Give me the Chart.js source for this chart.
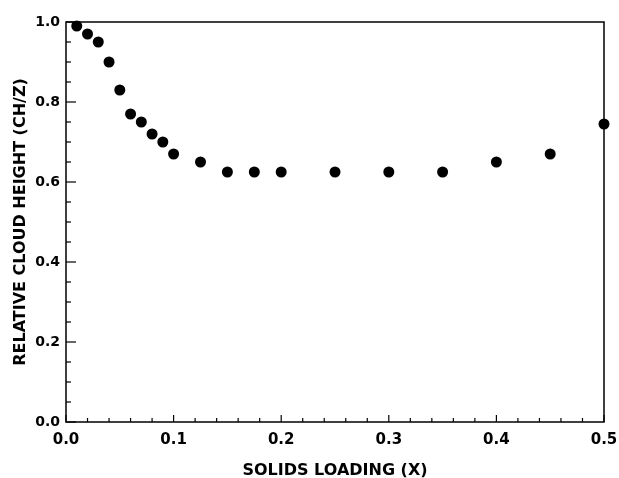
<!DOCTYPE html>
<html>
<head>
<meta charset="utf-8">
<script src="https://cdn.jsdelivr.net/npm/chart.js@4/dist/chart.umd.min.js"></script>
<style>
  html, body { margin: 0; padding: 0; background: #fff; }
  #wrap { width: 619px; height: 478px; }
</style>
</head>
<body>
<div id="wrap"><canvas id="c" width="619" height="478"></canvas></div>
<script>
// solids loading (x) and relative cloud height (CH/Z)
const loading = [0.01, 0.02, 0.03, 0.04, 0.05, 0.06, 0.07, 0.08, 0.09, 0.10,
                 0.125, 0.15, 0.175, 0.20, 0.25, 0.30, 0.35, 0.40, 0.45, 0.50]
const cloudHeight = [0.99, 0.97, 0.95, 0.90, 0.83, 0.77, 0.75, 0.72, 0.70, 0.67,
                     0.65, 0.625, 0.625, 0.625, 0.625, 0.625, 0.625, 0.65, 0.67, 0.745]

const xTicks = [0, 0.1, 0.2, 0.3, 0.4, 0.5]
const yTicks = [0, 0.2, 0.4, 0.6, 0.8, 1.0]
const xMinorStep = 0.02
const yMinorStep = 0.05

const FONT = 'DejaVu Sans'

var pts = loading.map((v, i) => ({x: v, y: cloudHeight[i]}))

// inward tick marks + the closed frame, placed with the chart's own scales
const frame = {
    id: 'frame',
    afterDraw(chart) {
        const ctx = chart.ctx
        const a = chart.chartArea
        const xs = chart.scales.x, ys = chart.scales.y
        ctx.save()
        ctx.strokeStyle = '#000'
        ctx.lineWidth = 1.5
        ctx.strokeRect(a.left, a.top, a.right - a.left, a.bottom - a.top)
        ctx.lineWidth = 1.2
        for (let i = 0; i * xMinorStep <= 0.5 + 1e-9; i++) {
            const v = i * xMinorStep
            const px = xs.getPixelForValue(v)
            const major = Math.abs(v * 10 - Math.round(v * 10)) < 1e-6
            ctx.beginPath()
            ctx.moveTo(px, a.bottom)
            ctx.lineTo(px, a.bottom - (major ? 7 : 4))
            ctx.stroke()
        }
        for (let i = 0; i * yMinorStep <= 1 + 1e-9; i++) {
            const v = i * yMinorStep
            const py = ys.getPixelForValue(v)
            const major = Math.abs(v * 5 - Math.round(v * 5)) < 1e-6
            ctx.beginPath()
            ctx.moveTo(a.left, py)
            ctx.lineTo(a.left + (major ? 10 : 5), py)
            ctx.stroke()
        }
        ctx.restore()
    }
}

new Chart(document.getElementById('c'), {
    type: 'scatter',
    data: {
        datasets: [{
            data: pts,
            backgroundColor: '#000',
            borderWidth: 0,
            pointRadius: 5.5,
            pointHoverRadius: 5.5,
            clip: false
        }]
    },
    options: {
        responsive: false,
        animation: false,
        events: [],
        layout: { padding: { top: 22, right: 15, left: 0, bottom: 0 } },
        plugins: { legend: { display: false }, tooltip: { enabled: false } },
        scales: {
            x: {
                type: 'linear',
                min: 0, max: 0.5,
                afterBuildTicks: s => { s.ticks = xTicks.map(v => ({value: v})) },
                afterFit: s => { s.height = 56; s.paddingLeft = 0; s.paddingRight = 0 },
                grid: { display: false, drawTicks: false },
                border: { display: false },
                ticks: {
                    padding: 9,
                    color: '#000',
                    font: { family: FONT, size: 15, weight: 'bold' },
                    maxRotation: 0,
                    callback: v => v.toFixed(1)
                },
                title: {
                    display: true,
                    text: 'SOLIDS LOADING (X)',
                    color: '#000',
                    font: { family: FONT, size: 16, weight: 'bold' },
                    padding: { top: 0, bottom: -2 }
                }
            },
            y: {
                type: 'linear',
                min: 0, max: 1,
                afterBuildTicks: s => { s.ticks = yTicks.map(v => ({value: v})) },
                afterFit: s => { s.width = 66; s.paddingTop = 0; s.paddingBottom = 0 },
                grid: { display: false, drawTicks: false },
                border: { display: false },
                ticks: {
                    padding: 6,
                    color: '#000',
                    font: { family: FONT, size: 14, weight: 'bold' },
                    callback: v => v.toFixed(1)
                },
                title: {
                    display: true,
                    text: 'RELATIVE CLOUD HEIGHT (CH/Z)',
                    color: '#000',
                    font: { family: FONT, size: 16, weight: 'bold' },
                    padding: { top: 11, bottom: 0 }
                }
            }
        }
    },
    plugins: [frame]
})
</script>
</body>
</html>
